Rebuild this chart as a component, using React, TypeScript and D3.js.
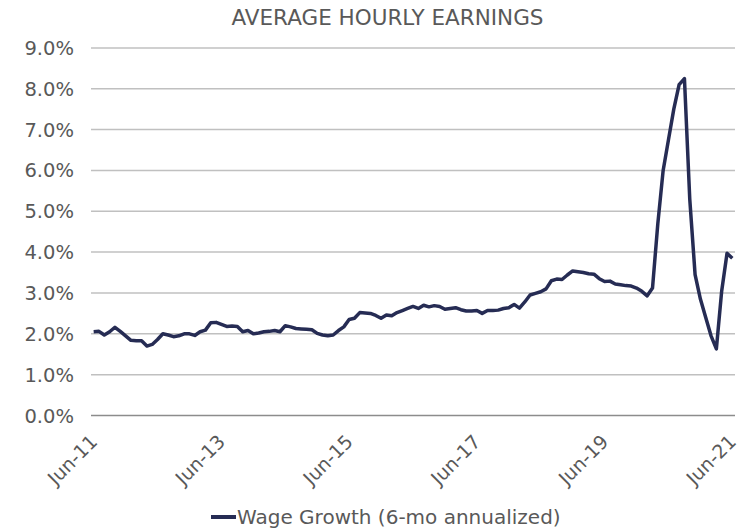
import React from "react";
import * as d3 from "d3";

const title = "AVERAGE HOURLY EARNINGS";
const seriesName = "Wage Growth (6-mo annualized)";

// Monthly values, Jun-2011 .. Jun-2021 (percent)
const wageGrowth: number[] = [
  2.05, 2.06, 1.97, 2.05, 2.16, 2.06, 1.95, 1.84, 1.83, 1.83,
  1.70, 1.74, 1.86, 2.00, 1.97, 1.93, 1.95, 2.00, 2.00, 1.96,
  2.05, 2.09, 2.27, 2.28, 2.23, 2.18, 2.19, 2.18, 2.05, 2.08,
  2.00, 2.02, 2.05, 2.06, 2.08, 2.05, 2.20, 2.17, 2.13, 2.12,
  2.11, 2.10, 2.01, 1.97, 1.95, 1.97, 2.08, 2.17, 2.35, 2.38,
  2.52, 2.51, 2.50, 2.45, 2.38, 2.46, 2.44, 2.52, 2.57, 2.62,
  2.67, 2.62, 2.70, 2.66, 2.69, 2.67, 2.60, 2.62, 2.64, 2.59,
  2.56, 2.56, 2.57, 2.50, 2.57, 2.57, 2.58, 2.62, 2.64, 2.72,
  2.63, 2.78, 2.95, 2.99, 3.03, 3.10, 3.30, 3.34, 3.33, 3.44,
  3.54, 3.52, 3.50, 3.47, 3.46, 3.35, 3.28, 3.29, 3.22, 3.20,
  3.18, 3.17, 3.12, 3.04, 2.93, 3.12, 4.70, 6.00, 6.75, 7.50,
  8.10, 8.25, 5.30, 3.45, 2.85, 2.40, 1.95, 1.63, 3.05, 3.97,
  3.85,
];

const monthNames = ["Jan", "Feb", "Mar", "Apr", "May", "Jun", "Jul", "Aug", "Sep", "Oct", "Nov", "Dec"];
const months: string[] = wageGrowth.map((_, i) => {
  const m = (5 + i) % 12;
  const y = 11 + Math.floor((5 + i) / 12);
  return `${monthNames[m]}-${y}`;
});
const xTickLabels = ["Jun-11", "Jun-13", "Jun-15", "Jun-17", "Jun-19", "Jun-21"];
const yTicks = [0, 1, 2, 3, 4, 5, 6, 7, 8, 9];

const W = 742;
const H = 532;
const left = 91;
const right = 735;
const top = 47.9;
const bottom = 415.5;
const font = "'DejaVu Sans', Verdana, sans-serif";
const textColor = "#595959";
const lineColor = "#262c54";

export default function App() {
  const x = d3.scaleBand<string>().domain(months).range([left, right]).padding(0);
  const y = d3.scaleLinear().domain([0, 9]).range([bottom, top]);
  const cx = (m: string) => (x(m) ?? 0) + x.bandwidth() / 2;
  const line = d3
    .line<number>()
    .x((_, i) => cx(months[i]))
    .y((d) => y(d))
    .curve(d3.curveLinear);
  const fmt = d3.format(".1f");

  return (
    <svg width={W} height={H} style={{ position: "absolute", left: 0, top: 0, background: "#fff" }}>
      <text x={387.5} y={25} textAnchor="middle" fontFamily={font} fontSize={21.5} fill={textColor}>
        {title}
      </text>
      {yTicks.map((t) => (
        <g key={t}>
          <line
            x1={left}
            x2={right}
            y1={y(t)}
            y2={y(t)}
            stroke={t === 0 ? "#8c8c8c" : "#c0c0c0"}
            strokeWidth={1.5}
          />
          <text x={74} y={y(t) + 7} textAnchor="end" fontFamily={font} fontSize={19.5} fill={textColor}>
            {fmt(t) + "%"}
          </text>
        </g>
      ))}
      {xTickLabels.map((lab) => (
        <text
          key={lab}
          transform={`translate(${cx(lab) + 5},${443}) rotate(-45)`}
          textAnchor="end"
          fontFamily={font}
          fontSize={19}
          fill={textColor}
        >
          {lab}
        </text>
      ))}
      <path d={line(wageGrowth) ?? ""} fill="none" stroke={lineColor} strokeWidth={3.5} strokeLinejoin="round" />
      <line x1={211} x2={236} y1={517} y2={517} stroke={lineColor} strokeWidth={4} />
      <text x={237} y={524} fontFamily={font} fontSize={20} fill={textColor}>
        {seriesName}
      </text>
    </svg>
  );
}
